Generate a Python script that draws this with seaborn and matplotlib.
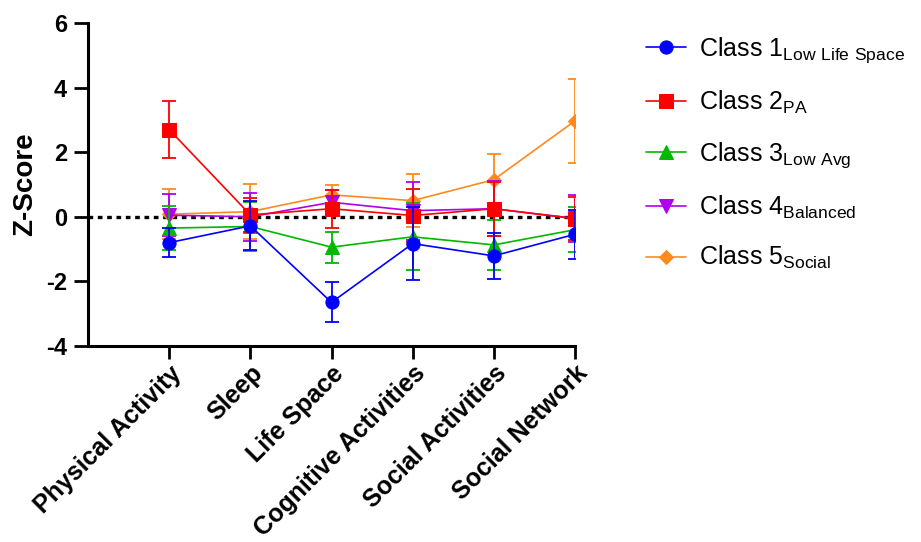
import matplotlib
matplotlib.use("Agg")
import matplotlib.pyplot as plt
import seaborn as sns
import pandas as pd

# Domains on the x axis
domains = ["Physical Activity", "Sleep", "Life Space", "Cognitive Activities",
           "Social Activities", "Social Network"]

# Class means (z-scores) and error-bar half widths
class1_mean = [-0.80, -0.28, -2.65, -0.83, -1.21, -0.54]
class1_err = [0.45, 0.76, 0.62, 1.14, 0.71, 0.76]
class2_mean = [2.70, 0.06, 0.25, 0.04, 0.25, -0.06]
class2_err = [0.87, 0.52, 0.59, 0.81, 0.83, 0.67]
class3_mean = [-0.35, -0.30, -0.94, -0.62, -0.87, -0.40]
class3_err = [0.69, 0.77, 0.48, 1.04, 0.77, 0.69]
class4_mean = [0.05, 0.00, 0.45, 0.19, 0.25, -0.05]
class4_err = [0.65, 0.74, 0.38, 0.90, 0.85, 0.72]
class5_mean = [0.08, 0.16, 0.68, 0.50, 1.15, 2.97]
class5_err = [0.77, 0.84, 0.30, 0.82, 0.79, 1.30]

class_labels = [
    r"Class 1$_{\mathregular{Low\ Life\ Space}}$",
    r"Class 2$_{\mathregular{PA}}$",
    r"Class 3$_{\mathregular{Low\ Avg}}$",
    r"Class 4$_{\mathregular{Balanced}}$",
    r"Class 5$_{\mathregular{Social}}$",
]
means = [class1_mean, class2_mean, class3_mean, class4_mean, class5_mean]
errs = [class1_err, class2_err, class3_err, class4_err, class5_err]
colors = ["#0000FF", "#FF0000", "#00B800", "#B000EE", "#FF8A1C"]
markers = ["o", "s", "^", "v", "D"]
msizes = [9.5, 9.5, 9.5, 9.5, 7.5]

sns.set_theme(style="ticks")
plt.rcParams["font.family"] = ["Liberation Sans", "DejaVu Sans"]
plt.rcParams["mathtext.fontset"] = "custom"
plt.rcParams["mathtext.rm"] = "Liberation Sans"
plt.rcParams["axes.unicode_minus"] = False
for key in ["text.color", "axes.labelcolor", "xtick.color", "ytick.color",
            "xtick.labelcolor", "ytick.labelcolor"]:
    plt.rcParams[key] = "black"

fig = plt.figure(figsize=(9.21, 5.42), dpi=100)
ax = fig.add_axes([88 / 921, 1 - 346 / 542, 487 / 921, 323 / 542])

ax.axhline(0, color="black", lw=2.4, linestyle=(0, (1.4, 1.4)), zorder=1)

handles = [None] * 5
for i in reversed(range(5)):
    df = pd.DataFrame({"domain": domains, "z": means[i]})
    z = 10 + (5 - i) * 2
    ax.errorbar(df["domain"], df["z"], yerr=errs[i], fmt="none",
                ecolor=colors[i], elinewidth=1.3, capsize=5, capthick=1.3,
                zorder=z)
    sns.lineplot(data=df, x="domain", y="z", ax=ax, color=colors[i],
                 marker=markers[i], markersize=msizes[i],
                 markeredgecolor=colors[i], linewidth=1.2, sort=False,
                 zorder=z + 1)
    handles[i] = ax.lines[-1]

ax.set_xlim(-1, 5)
ax.set_ylim(-4, 6)
ax.set_yticks([-4, -2, 0, 2, 4, 6])
ax.set_ylabel("Z-Score", fontsize=20, fontweight="bold", labelpad=6)
ax.set_xlabel("")

for sp in ["top", "right"]:
    ax.spines[sp].set_visible(False)
for sp in ["left", "bottom"]:
    ax.spines[sp].set_linewidth(2.2)
    ax.spines[sp].set_color("black")

ax.tick_params(axis="y", length=10, width=2, labelsize=17, pad=5)
ax.tick_params(axis="x", length=9, width=2, labelsize=18, pad=2)
for t in ax.get_yticklabels():
    t.set_fontweight("bold")
for t in ax.get_xticklabels():
    t.set_fontweight("bold")
    t.set_rotation(45)
    t.set_ha("right")
    t.set_rotation_mode("anchor")

leg = ax.legend(handles, class_labels, loc="upper left",
                bbox_to_anchor=(623 / 921, 1 - 13 / 542),
                bbox_transform=fig.transFigure, frameon=False, fontsize=18,
                handlelength=1.6, handletextpad=0.55, labelspacing=0.95)

fig.savefig("out.png", dpi=100)
